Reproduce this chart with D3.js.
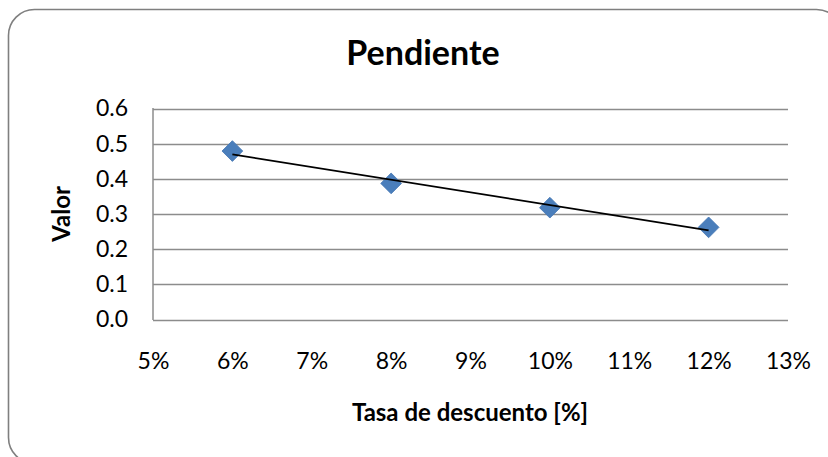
<!DOCTYPE html>
<html>
<head>
<meta charset="utf-8">
<script src="https://cdn.jsdelivr.net/npm/d3@7"></script>
<style>
  html, body { margin: 0; padding: 0; background: #fff; }
  svg { display: block; font-family: Lato, "Open Sans", sans-serif; }
</style>
</head>
<body>
<svg id="chart" width="828" height="457"></svg>
<script>
// Slope values by discount rate
const rates  = [0.06, 0.08, 0.10, 0.12];
const values = [0.479, 0.387, 0.318, 0.262];

// Axis ticks
const xTicks = [0.05, 0.06, 0.07, 0.08, 0.09, 0.10, 0.11, 0.12, 0.13];
const yTicks = [0, 0.1, 0.2, 0.3, 0.4, 0.5, 0.6];

const titleText = "Pendiente";
const xTitle = "Tasa de descuento [%]";
const yTitle = "Valor";

const svg = d3.select("#chart");

// Outer rounded frame
svg.append("rect")
  .attr("x", 8.5).attr("y", 9.5)
  .attr("width", 834).attr("height", 454)
  .attr("rx", 26).attr("ry", 26)
  .attr("fill", "#fff")
  .attr("stroke", "#7f7f7f")
  .attr("stroke-width", 1.6);

const plot = { left: 153, right: 788, top: 108.5, bottom: 319.5 };

const x = d3.scaleLinear().domain([0.05, 0.13]).range([plot.left, plot.right]);
const y = d3.scaleLinear().domain([0, 0.6]).range([plot.bottom, plot.top]);

// Horizontal gridlines
svg.append("g")
  .selectAll("line")
  .data(yTicks)
  .join("line")
  .attr("x1", plot.left).attr("x2", plot.right)
  .attr("y1", d => Math.round(y(d)) + 0.5)
  .attr("y2", d => Math.round(y(d)) + 0.5)
  .attr("stroke", "#8c8c8c")
  .attr("stroke-width", 1.5);

// Vertical axis line
svg.append("line")
  .attr("x1", plot.left).attr("x2", plot.left)
  .attr("y1", plot.top - 0.5).attr("y2", plot.bottom + 0.5)
  .attr("stroke", "#8c8c8c")
  .attr("stroke-width", 1.5);

// Y axis labels
const yAxis = svg.append("g")
  .attr("transform", `translate(${plot.left},0)`)
  .call(d3.axisLeft(y).tickValues(yTicks).tickFormat(d3.format(".1f")).tickSize(0).tickPadding(25));
yAxis.select(".domain").remove();
yAxis.selectAll("text")
  .attr("font-family", "Lato, sans-serif")
  .attr("font-size", 23)
  .attr("fill", "#000");

// X axis labels
const xAxis = svg.append("g")
  .attr("transform", `translate(0,${plot.bottom})`)
  .call(d3.axisBottom(x).tickValues(xTicks).tickFormat(d3.format(".0%")).tickSize(0).tickPadding(33));
xAxis.select(".domain").remove();
xAxis.selectAll("text")
  .attr("font-family", "Lato, sans-serif")
  .attr("font-size", 23)
  .attr("fill", "#000");

// Linear trend line (least squares fit)
const mx = d3.mean(rates), my = d3.mean(values);
const sxy = d3.sum(rates, (r, i) => (r - mx) * (values[i] - my));
const sxx = d3.sum(rates, r => (r - mx) ** 2);
const slope = sxy / sxx;
const intercept = my - slope * mx;
const xMin = d3.min(rates), xMax = d3.max(rates);

// Markers
const diamond = d3.symbol().type(d3.symbolSquare).size(215);
svg.append("g")
  .selectAll("path")
  .data(rates.map((r, i) => ({ r, v: values[i] })))
  .join("path")
  .attr("d", diamond)
  .attr("transform", d => `translate(${x(d.r)},${y(d.v)}) rotate(45)`)
  .attr("fill", "#4a7ebb")
  .attr("stroke", "#4677b4")
  .attr("stroke-width", 0.8);

svg.append("line")
  .attr("x1", x(xMin)).attr("y1", y(intercept + slope * xMin))
  .attr("x2", x(xMax)).attr("y2", y(intercept + slope * xMax))
  .attr("stroke", "#000")
  .attr("stroke-width", 1.6);

// Titles
svg.append("text")
  .attr("x", 423).attr("y", 65)
  .attr("text-anchor", "middle")
  .attr("font-family", "Lato, sans-serif")
  .attr("font-weight", "bold")
  .attr("font-size", 34)
  .text(titleText);

svg.append("text")
  .attr("x", 470).attr("y", 421)
  .attr("text-anchor", "middle")
  .attr("font-family", "Lato, sans-serif")
  .attr("font-weight", "bold")
  .attr("font-size", 24)
  .text(xTitle);

svg.append("text")
  .attr("transform", "translate(70,214) rotate(-90)")
  .attr("text-anchor", "middle")
  .attr("font-family", "Lato, sans-serif")
  .attr("font-weight", "bold")
  .attr("font-size", 24)
  .text(yTitle);
</script>
</body>
</html>
